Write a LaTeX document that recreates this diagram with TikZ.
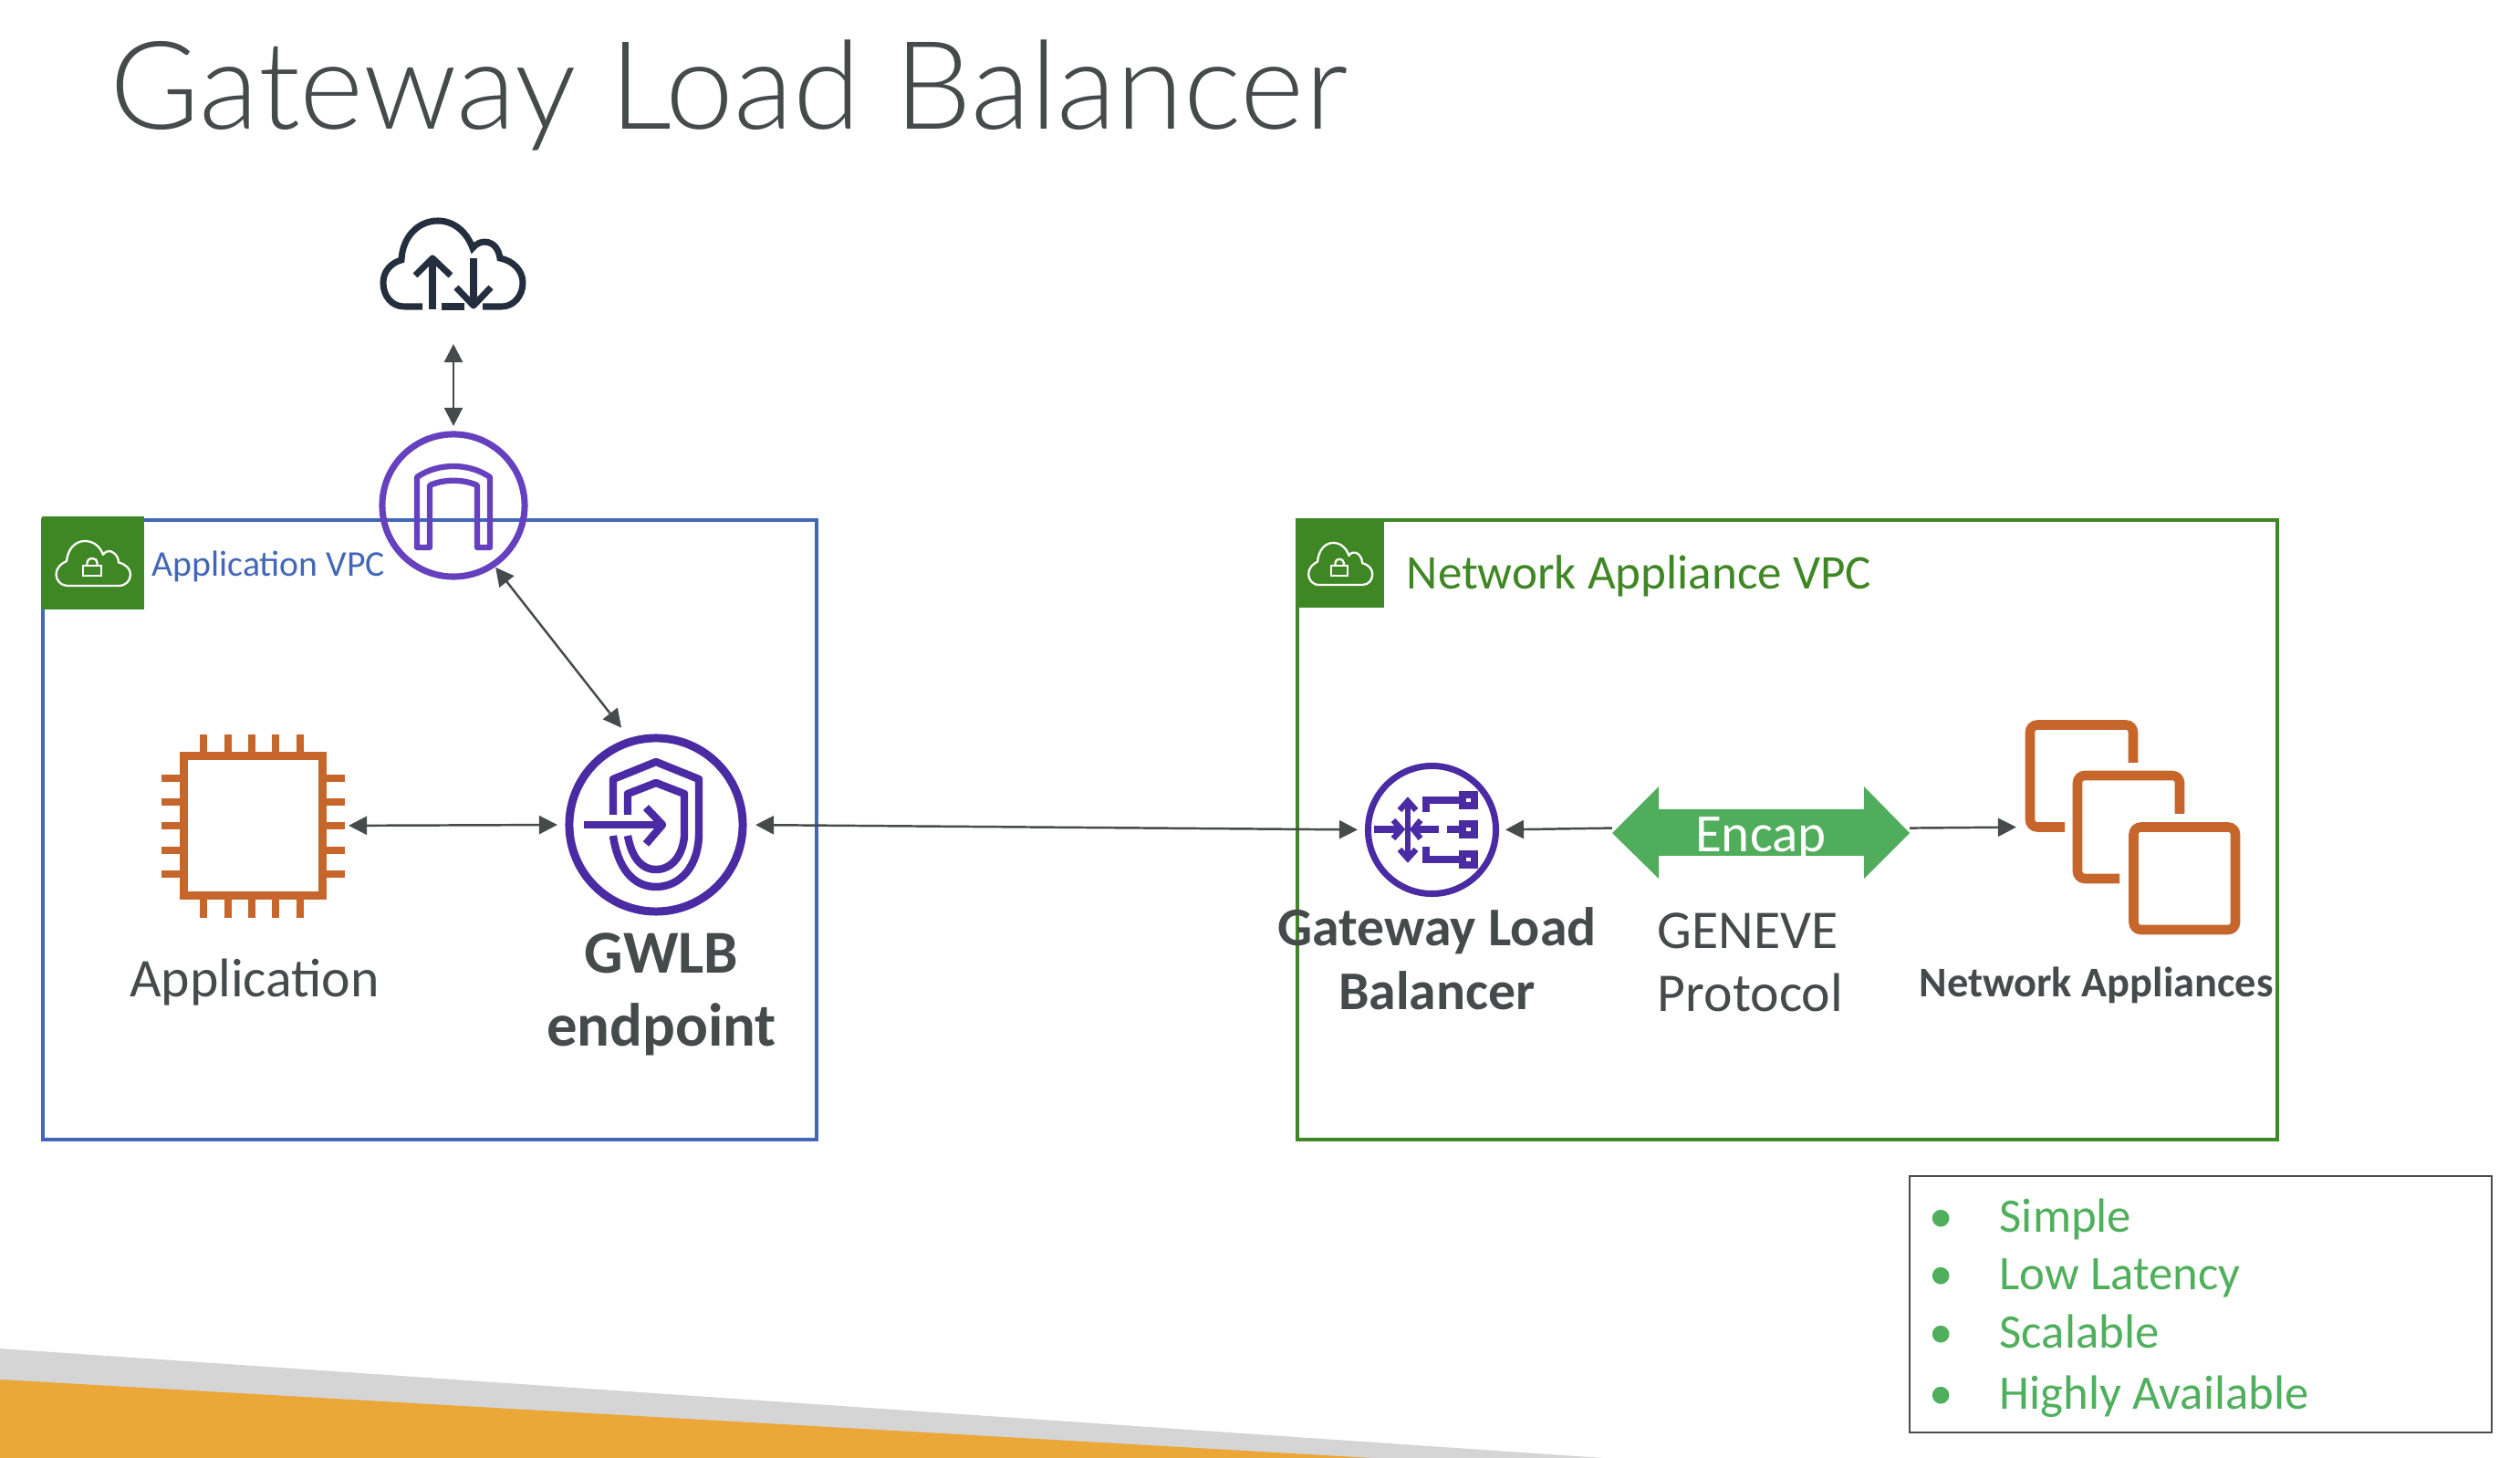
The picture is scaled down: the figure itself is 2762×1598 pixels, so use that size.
\documentclass[tikz,border=0pt]{standalone}
\usepackage{fontspec}
\setmainfont{Carlito}
\newfontfamily\titlefont{Lato Light}
\usetikzlibrary{arrows.meta}

\definecolor{inkgrey}{HTML}{454A4A}
\definecolor{vpcblue}{HTML}{4267B8}
\definecolor{vpcgreen}{HTML}{3F8624}
\definecolor{igwpurple}{HTML}{6540BF}
\definecolor{lbpurple}{HTML}{4A2BA3}
\definecolor{ecorange}{HTML}{C7662B}
\definecolor{cloudnavy}{HTML}{232F3E}
\definecolor{encapgreen}{HTML}{4FAD5B}
\definecolor{listgreen}{HTML}{4FAF5C}
\definecolor{bandgrey}{HTML}{D5D5D5}
\definecolor{bandorange}{HTML}{EBA738}

\tikzset{
    link/.style={draw=inkgrey, line width=0.7pt, {Triangle[length=2mm,width=2mm]}-{Triangle[length=2mm,width=2mm]}},
    linkone/.style={draw=inkgrey, line width=0.7pt, -{Triangle[length=2mm,width=2mm]}},
    iconring/.style={circle, draw, inner sep=0pt, outer sep=0pt},
    iconarea/.style={rectangle, inner sep=0pt, outer sep=0pt},
    plainlabel/.style={anchor=base, inner sep=0pt, text=inkgrey, font=\fontsize{17}{20}\selectfont},
    boldlabel/.style={anchor=base, inner sep=0pt, text=inkgrey, font=\bfseries\fontsize{17}{20}\selectfont},
    listlabel/.style={anchor=base west, inner sep=0pt, text=listgreen, font=\fontsize{15}{18}\selectfont},
    vpccloud/.pic={
        \draw[white, line width=0.65pt, line join=round]
        (-27,24.5) .. controls (-36,24.5) and (-40.5,18) .. (-40.5,12)
        .. controls (-40.5,5) and (-35,0) .. (-29,-2.5)
        .. controls (-28,-15) and (-20,-24.5) .. (-9,-24.5)
        .. controls (1,-24.5) and (8,-18) .. (11,-9.5)
        .. controls (13,-13) and (17,-14) .. (20,-13)
        .. controls (25,-11) and (28,-6) .. (28,-1)
        .. controls (36,1) and (41,6) .. (41,12)
        .. controls (41,19) and (36,24.5) .. (28,24.5)
        -- cycle;
        \draw[white, line width=0.65pt] (-11.3,2.5) rectangle (9,13.5);
        \draw[white, line width=0.65pt] (-6.5,2.5) -- (-6.5,-1) .. controls (-6.5,-7) and (4.5,-7) .. (4.5,-1) -- (4.5,2.5);
    }
}

\begin{document}
\begin{tikzpicture}[x=0.01cm, y=-0.01cm]
    \useasboundingbox (0,0) rectangle (2762,1598);

    \fill[bandgrey] (0,1478) -- (1757,1598) -- (0,1598) -- cycle;
    \fill[bandorange] (0,1512) -- (1504,1598) -- (0,1598) -- cycle;

    \node[anchor=base west, inner sep=0pt, text=inkgrey, font=\titlefont\fontsize{38.2}{44}\selectfont]
    (title) at (120,142) {Gateway Load Balancer};

    % the two VPC boxes
    \draw[vpcblue, line width=0.95pt] (47,570) rectangle (895,1249);
    \fill[vpcgreen] (46,566) rectangle (158,668);
    \pic at (102,617.5) {vpccloud};
    \node[anchor=base west, inner sep=0pt, text=vpcblue, font=\fontsize{11.3}{13}\selectfont]
    (appvpc) at (166,632) {Application VPC};

    \draw[vpcgreen, line width=0.95pt] (1422,570) rectangle (2496,1249);
    \fill[vpcgreen] (1421,570) rectangle (1517,666);
    \pic[xscale=0.86, yscale=0.94] at (1469,618) {vpccloud};
    \node[anchor=base west, inner sep=0pt, text=vpcgreen, font=\fontsize{15.1}{17}\selectfont]
    (netvpc) at (1541,646) {Network Appliance VPC};

    % internet cloud
    \node[iconarea, minimum width=1.6cm, minimum height=1cm] (cloud) at (497,289) {};
    \draw[cloudnavy, line width=2pt]
    (463,336) -- (443,336)
    .. controls (429,336) and (420,324) .. (420,310)
    .. controls (420,297) and (429,288) .. (440,285)
    .. controls (441,260) and (458,242) .. (480,242)
    .. controls (498,242) and (512,255) .. (518,272)
    .. controls (526,261) and (545,262) .. (548,283)
    .. controls (563,286) and (573,297) .. (573,310)
    .. controls (573,324) and (563,336) .. (550,336)
    -- (529,336);
    \draw[cloudnavy, line width=2pt] (484,336) -- (509,336);
    \draw[cloudnavy, line width=2pt] (474,339) -- (474,283);
    \draw[cloudnavy, line width=2pt, line join=round] (455,302) -- (474,283) -- (494,302);
    \draw[cloudnavy, line width=2pt] (519,283) -- (519,335);
    \draw[cloudnavy, line width=2pt, line join=round] (500,315) -- (519,335) -- (538,315);

    % internet gateway
    \node[iconring, draw=igwpurple, line width=2pt, minimum size=1.56cm] (igw) at (497,554) {};
    \draw[igwpurple, line width=1.8pt, line join=round]
    (457,600) -- (457,523)
    .. controls (480,507) and (514,507) .. (537,523)
    -- (537,600) -- (523,600) -- (523,532)
    .. controls (508,525) and (486,525) .. (471,532)
    -- (471,600) -- cycle;

    % application instance
    \node[iconarea, draw=ecorange, line width=2.55pt, minimum width=1.52cm, minimum height=1.53cm] (chip) at (277.5,905) {};
    \foreach \x in {223,250,276,302,329}{
        \draw[ecorange, line width=2.55pt] (\x,805) -- (\x,824);
        \draw[ecorange, line width=2.55pt] (\x,986) -- (\x,1006);
    }
    \foreach \y in {853,879,905,932,958}{
        \draw[ecorange, line width=2.55pt] (177,\y) -- (197,\y);
        \draw[ecorange, line width=2.55pt] (358,\y) -- (378,\y);
    }
    \node[plainlabel] (applabel) at (279,1093) {Application};

    % GWLB endpoint
    \node[iconring, draw=lbpurple, line width=2.55pt, minimum size=1.9cm] (gwlb) at (719,904) {};
    \draw[lbpurple, line width=2.4pt, line join=round]
    (672,893) -- (672,854) -- (719,835) -- (766,854) -- (766,913)
    .. controls (766,950) and (745,972) .. (719,972)
    .. controls (693,972) and (677,950) .. (672,916);
    \draw[lbpurple, line width=2.4pt, line join=round]
    (688,893) -- (688,870) -- (719,858) -- (750,870) -- (750,917)
    .. controls (748,938) and (736,953) .. (719,953)
    .. controls (702,953) and (692,938) .. (688,916);
    \draw[lbpurple, line width=2.55pt] (640,904) -- (727,904);
    \draw[lbpurple, line width=2.4pt, line join=round] (708,885) -- (726,904) -- (708,925);
    \node[boldlabel, font=\bfseries\fontsize{19}{22}\selectfont] (gwlbtop) at (725,1067) {GWLB};
    \node[boldlabel, font=\bfseries\fontsize{19}{22}\selectfont] (gwlbbot) at (725,1147) {endpoint};

    % gateway load balancer
    \node[iconring, draw=lbpurple, line width=2pt, minimum size=1.4cm] (glb) at (1569.5,909.5) {};
    \draw[lbpurple, line width=1.8pt] (1543,880) -- (1543,939);
    \draw[lbpurple, line width=1.8pt] (1534,888) -- (1543,878) -- (1552,888);
    \draw[lbpurple, line width=1.8pt] (1534,931) -- (1543,941) -- (1552,931);
    \draw[lbpurple, line width=2pt] (1506,909) -- (1534,909);
    \draw[lbpurple, line width=1.8pt] (1527,899) -- (1536,909) -- (1527,919);
    \draw[lbpurple, line width=2pt] (1551,909) -- (1577,909);
    \draw[lbpurple, line width=1.8pt] (1557,899) -- (1549,909) -- (1557,919);
    \draw[lbpurple, line width=2pt] (1563,890) -- (1563,877) -- (1600,877);
    \draw[lbpurple, line width=2pt] (1586,909) -- (1600,909);
    \draw[lbpurple, line width=2pt] (1563,928) -- (1563,942) -- (1600,942);
    \foreach \y in {877,909,942}{
        \draw[lbpurple, line width=2pt] (1603,\y-6) rectangle (1616,\y+6);
    }
    \node[boldlabel] (glbtop) at (1575,1037) {Gateway Load};
    \node[boldlabel] (glbbot) at (1575,1107) {Balancer};

    % encap arrow
    \fill[encapgreen] (1767,913) -- (1818,862) -- (1818,887) -- (2043,887) -- (2043,862)
    -- (2093,913) -- (2043,963) -- (2043,938) -- (1818,938) -- (1818,963) -- cycle;
    \node[iconarea, minimum width=3.26cm, minimum height=1.01cm, text=white, font=\fontsize{16.8}{20}\selectfont]
    (encap) at (1930,919) {Encap};
    \node[plainlabel, anchor=base west] (geneve) at (1816,1040) {GENEVE};
    \node[plainlabel, anchor=base west] (protocol) at (1816,1109) {Protocol};

    % network appliances
    \node[iconarea, minimum width=2.35cm, minimum height=2.35cm] (apps) at (2337.5,906.5) {};
    \draw[ecorange, line width=3pt, rounded corners=0.08cm]
    (2263,906.5) -- (2225,906.5) -- (2225,794.5) -- (2338,794.5) -- (2338,836);
    \draw[ecorange, line width=3pt, rounded corners=0.08cm]
    (2323,963) -- (2277,963) -- (2277,850) -- (2389,850) -- (2389,892);
    \draw[ecorange, line width=3pt, rounded corners=0.08cm]
    (2338.5,906.5) -- (2450,906.5) -- (2450,1019) -- (2338.5,1019) -- cycle;
    \node[boldlabel, font=\bfseries\fontsize{13.2}{16}\selectfont] (appslabel) at (2297.5,1093) {Network Appliances};

    % connectors
    \draw[link, shorten <=0.38cm, shorten >=0.09cm] (cloud.south) -- (igw.north);
    \draw[link, shorten <=0.04cm, shorten >=0.19cm] (igw.-56) -- (gwlb.106);
    \draw[link, shorten <=0.285cm, shorten >=0.13cm] (chip.east) -- (gwlb.west);
    \draw[link, shorten <=0.14cm, shorten >=0.115cm] (gwlb.east) -- (glb.west);
    \draw[linkone, shorten >=0.105cm] (encap.176.5) -- (glb.east);
    \draw[linkone, shorten >=0.1cm] (encap.4) -- (apps.west);

    % feature list
    \draw[black!70, line width=0.7pt] (2093,1289) rectangle (2731,1570);
    \foreach \y/\name/\label in {
        1351/simple/Simple,
        1414/latency/Low Latency,
        1478/scalable/Scalable,
        1545/available/Highly Available
    }{
        \node[listlabel] (dot\name) at (2114,\y) {•};
        \node[listlabel] (item\name) at (2191,\y) {\label};
    }
\end{tikzpicture}
\end{document}
